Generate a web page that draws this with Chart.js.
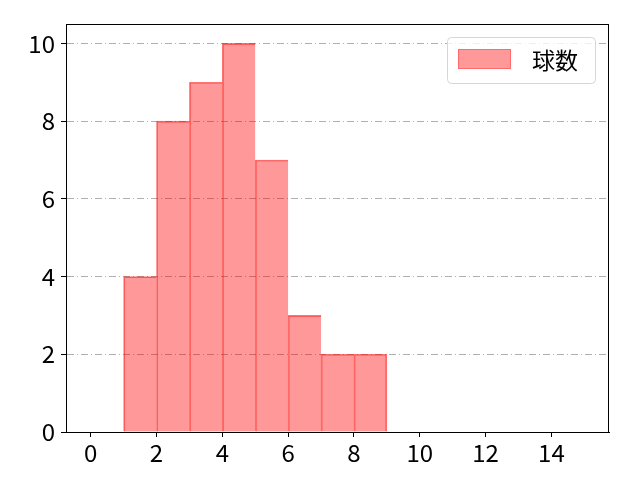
<!DOCTYPE html>
<html>
<head>
<meta charset="utf-8">
<script src="https://cdn.jsdelivr.net/npm/chart.js@4"></script>
<style>
  html, body { margin: 0; padding: 0; background: #fff; }
  #grafico { display: block; }
</style>
</head>
<body>
<canvas id="grafico" width="640" height="480"></canvas>
<script>
// histogram bins (left edge) and counts
const binStarts = [1, 2, 3, 4, 5, 6, 7, 8];
const counts = [4, 8, 9, 10, 7, 3, 2, 2];
const xTicks = [0, 2, 4, 6, 8, 10, 12, 14];
const yTicks = [0, 2, 4, 6, 8, 10];
const seriesLabel = "球数";

const fonte = "'Noto Sans CJK JP', 'Noto Sans', sans-serif";

const pontos = binStarts.map((b, i) => ({ x: b + 0.5, y: counts[i] }));

// frame around the plot area + matplotlib-like legend box
const molduraPlugin = {
  id: "moldura",
  afterDraw(chart) {
    const ctx = chart.ctx;
    const area = chart.chartArea;
    ctx.save();
    ctx.strokeStyle = "#000";
    ctx.lineWidth = 1;
    ctx.strokeRect(area.left + 0.5, area.top + 0.5, area.right - area.left - 1, area.bottom - area.top);

    // legend
    const lx = 447, ly = 37, lw = 148, lh = 46;
    ctx.beginPath();
    ctx.roundRect(lx + 0.5, ly + 0.5, lw, lh, 4);
    ctx.fillStyle = "rgba(255,255,255,0.8)";
    ctx.fill();
    ctx.strokeStyle = "#d6d6d6";
    ctx.stroke();
    ctx.fillStyle = "rgba(255,0,0,0.4)";
    ctx.fillRect(458, 49, 53, 20);
    ctx.strokeStyle = "rgba(255,0,0,0.3)";
    ctx.strokeRect(458.5, 49.5, 52, 19);
    ctx.fillStyle = "#000";
    ctx.font = "23px " + fonte;
    ctx.textBaseline = "middle";
    ctx.fillText(chart.data.datasets[0].label, 532, 60);
    ctx.restore();
  }
};

new Chart(document.getElementById("grafico").getContext("2d"), {
  type: "bar",
  data: {
    datasets: [{
      label: seriesLabel,
      data: pontos,
      backgroundColor: "rgba(255,0,0,0.4)",
      borderColor: "rgba(255,0,0,0.55)",
      // single edge between neighbouring bins
      borderWidth: ctx => ({
        top: 1,
        left: 1,
        bottom: 0,
        right: ctx.dataIndex === counts.length - 1 ? 1 : 0
      }),
      barPercentage: 1,
      categoryPercentage: 1,
      borderSkipped: false
    }]
  },
  options: {
    responsive: false,
    animation: false,
    layout: { padding: { left: 0, top: 24, right: 31, bottom: 0 } },
    plugins: {
      legend: { display: false },
      tooltip: { enabled: false }
    },
    scales: {
      x: {
        type: "linear",
        offset: false,
        min: -0.75,
        max: 15.75,
        afterBuildTicks: escala => { escala.ticks = xTicks.map(v => ({ value: v })); },
        afterFit: escala => { escala.height = 48; },
        grid: { offset: false, drawOnChartArea: false, tickLength: 5, tickColor: "#000" },
        border: { color: "#000" },
        ticks: {
          color: "#000",
          font: { family: fonte, size: 24 },
          padding: 1,
          maxRotation: 0
        }
      },
      y: {
        min: 0,
        max: 10.5,
        afterBuildTicks: escala => { escala.ticks = yTicks.map(v => ({ value: v })); },
        afterFit: escala => { escala.width = 66; },
        grid: { color: "#b0b0b0", tickLength: 5, tickColor: "#000" },
        border: { color: "#000", dash: [7, 3, 1, 3] },
        ticks: {
          color: "#000",
          font: { family: fonte, size: 24 },
          padding: 6
        }
      }
    }
  },
  plugins: [molduraPlugin]
});
</script>
</body>
</html>
